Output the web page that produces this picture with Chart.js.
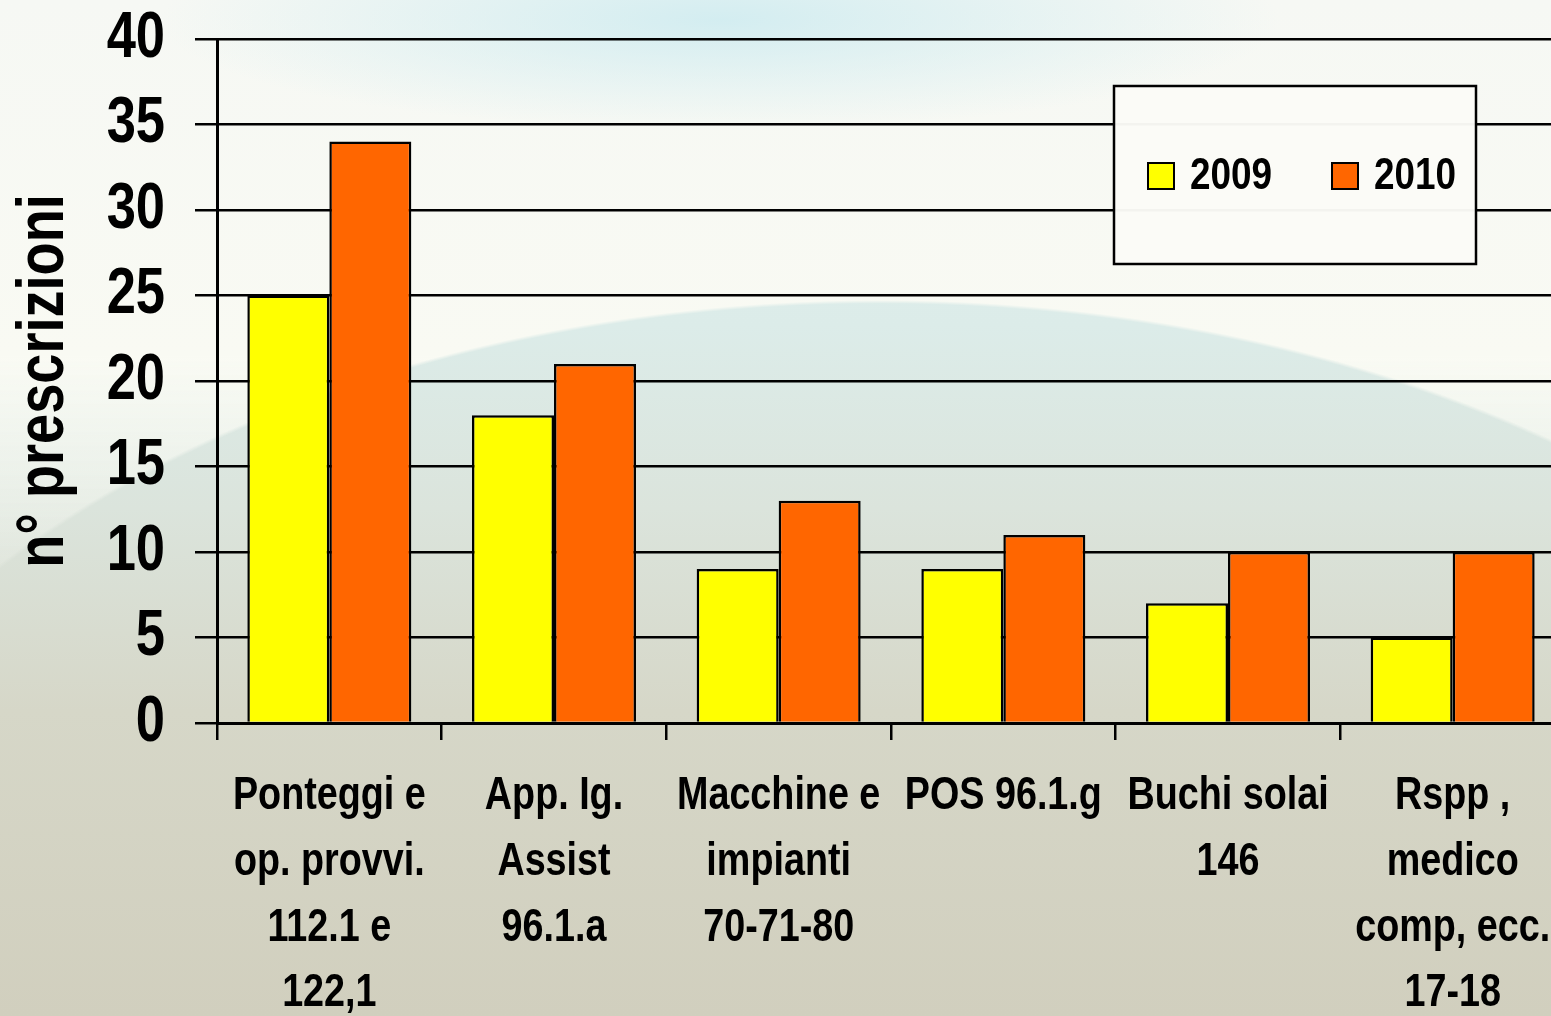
<!DOCTYPE html>
<html>
<head>
<meta charset="utf-8">
<script src="https://cdn.jsdelivr.net/npm/chart.js@4"></script>
<style>
  html, body { margin: 0; padding: 0; width: 1551px; height: 1016px; overflow: hidden; }
  body { position: relative; background: linear-gradient(to bottom, #e2f0f0 0%, #dcece9 32%, #dbe4dc 50%, #d6d7c8 70%, #d1cfbe 100%); }
  .top-light {
    position: absolute; left: 0; top: 0; width: 1551px; height: 1016px;
    background:
      radial-gradient(ellipse 560px 110px at 720px 20px, rgba(205, 235, 240, 0.85), rgba(205, 235, 240, 0) 100%),
      linear-gradient(to bottom, #f6f8f4 0%, #f9faf3 35%, rgba(249, 250, 243, 0) 62%);
    -webkit-mask-image: radial-gradient(ellipse 1150px 740px at 880px 1040px, transparent 99.5%, #000 100%);
    mask-image: radial-gradient(ellipse 1150px 740px at 880px 1040px, transparent 99.5%, #000 100%);
  }
  .chart-box { position: absolute; left: 0; top: 0; width: 1580px; height: 1016px; }
</style>
</head>
<body>
<div class="top-light"></div>
<div class="chart-box"><canvas id="chart"></canvas></div>
<script>
const categories = [
  ['Ponteggi e', 'op. provvi.', '112.1 e', '122,1'],
  ['App. Ig.', 'Assist', '96.1.a'],
  ['Macchine e', 'impianti', '70-71-80'],
  ['POS 96.1.g'],
  ['Buchi solai', '146'],
  ['Rspp ,', 'medico', 'comp, ecc.', '17-18']
];
const seriesNames = ['2009', '2010'];
const values2009 = [25, 18, 9, 9, 7, 5];
const values2010 = [34, 21, 13, 11, 10, 10];
const yMin = 0;
const yMax = 40;
const yStep = 5;
const yTitle = 'n° prescrizioni';

const fontFamily = "'Liberation Sans', Arial, sans-serif";
const colors = ['#ffff00', '#ff6600'];

// no narrow font installed: squeeze text horizontally on this canvas only
const NARROW = 0.82;
const canvas = document.getElementById('chart');
const ctx2d = canvas.getContext('2d');
const baseFill = ctx2d.fillText.bind(ctx2d);
const baseMeasure = ctx2d.measureText.bind(ctx2d);
ctx2d.fillText = function (text, x, y) {
  this.save();
  this.translate(x, y);
  this.scale(NARROW, 1);
  baseFill(text, 0, 0);
  this.restore();
};
ctx2d.measureText = function (text) {
  const m = baseMeasure(text);
  return {
    width: m.width * NARROW,
    actualBoundingBoxAscent: m.actualBoundingBoxAscent,
    actualBoundingBoxDescent: m.actualBoundingBoxDescent,
    actualBoundingBoxLeft: m.actualBoundingBoxLeft * NARROW,
    actualBoundingBoxRight: m.actualBoundingBoxRight * NARROW
  };
};

// legend box drawn inside the plot, top right
const boxLegend = {
  id: 'boxLegend',
  afterDraw(chart) {
    const { ctx } = chart;
    const x = 1114, y = 86, w = 362, h = 178;
    ctx.save();
    ctx.fillStyle = 'rgba(251, 251, 247, 0.97)';
    ctx.fillRect(x, y, w, h);
    ctx.lineWidth = 2.5;
    ctx.strokeStyle = '#000';
    ctx.strokeRect(x, y, w, h);
    ctx.font = `bold 45px ${fontFamily}`;
    ctx.textBaseline = 'middle';
    ctx.textAlign = 'left';
    chart.data.datasets.forEach((ds, i) => {
      const bx = x + 34 + i * 184;
      const by = y + 90;
      ctx.fillStyle = ds.backgroundColor;
      ctx.fillRect(bx, by - 13, 26, 26);
      ctx.lineWidth = 2;
      ctx.strokeRect(bx, by - 13, 26, 26);
      ctx.fillStyle = '#000';
      ctx.fillText(ds.label, bx + 42, by + 1);
    });
    ctx.restore();
  }
};

new Chart(canvas, {
  type: 'bar',
  data: {
    labels: categories,
    datasets: [
      { label: seriesNames[0], data: values2009, backgroundColor: colors[0] },
      { label: seriesNames[1], data: values2010, backgroundColor: colors[1] }
    ]
  },
  options: {
    responsive: true,
    maintainAspectRatio: false,
    animation: false,
    devicePixelRatio: 1,
    layout: { padding: { top: 39, right: 15, left: 0, bottom: 0 } },
    datasets: {
      bar: {
        borderColor: '#000',
        borderWidth: 2.5,
        categoryPercentage: 0.73,
        barPercentage: 1
      }
    },
    plugins: {
      legend: { display: false },
      tooltip: { enabled: false }
    },
    scales: {
      x: {
        offset: true,
        afterFit: (scale) => { scale.height = 293; },
        grid: {
          offset: true,
          drawOnChartArea: false,
          drawTicks: true,
          tickLength: 17,
          color: '#000',
          lineWidth: 2.5
        },
        border: { display: true, color: '#000', width: 3 },
        ticks: {
          autoSkip: false,
          maxRotation: 0,
          minRotation: 0,
          padding: 24,
          color: '#000',
          font: { family: fontFamily, size: 46, weight: 'bold', lineHeight: 1.426 }
        }
      },
      y: {
        min: yMin,
        max: yMax,
        afterFit: (scale) => { scale.width = 217; },
        grid: {
          color: '#000',
          lineWidth: 2.5,
          tickLength: 22,
          drawTicks: true
        },
        border: { display: true, color: '#000', width: 3 },
        ticks: {
          stepSize: yStep,
          padding: 30,
          color: '#000',
          // small line height keeps the top label from pushing the plot down
          font: { family: fontFamily, size: 64, weight: 'bold', lineHeight: 0.28 }
        },
        title: {
          display: true,
          text: yTitle,
          color: '#000',
          padding: { top: 5, bottom: 0 },
          font: { family: fontFamily, size: 66, weight: 'bold', lineHeight: 1.2 }
        }
      }
    }
  },
  plugins: [boxLegend]
});
</script>
</body>
</html>
